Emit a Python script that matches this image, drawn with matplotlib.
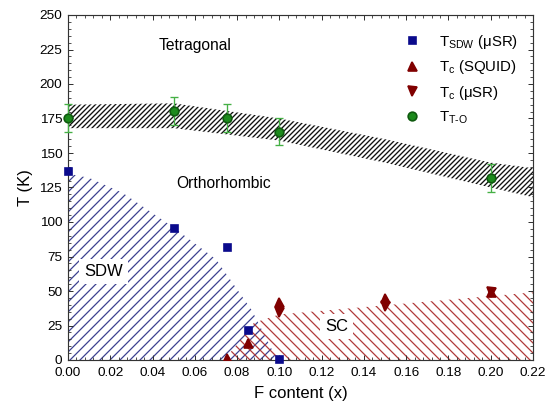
import matplotlib
matplotlib.use("Agg")
import matplotlib.pyplot as plt
from matplotlib.patches import Polygon
from matplotlib.ticker import MultipleLocator
import numpy as np

# ---- data ----
x_sdw = [0.0, 0.05, 0.075, 0.085, 0.10]
t_sdw = [137, 96, 82, 22, 1]

x_tc_squid = [0.075, 0.085, 0.10, 0.15, 0.20]
t_tc_squid = [1.5, 12.5, 42, 45, 49.5]

x_tc_musr = [0.10, 0.15, 0.20]
t_tc_musr = [35, 39, 49.5]

x_tto = [0.0, 0.05, 0.075, 0.10, 0.20]
t_tto = [175.5, 180.5, 175.5, 165.5, 132]
err_tto = [10, 10, 10, 10, 10]

# T-O transition band
band_x = [0.0, 0.05, 0.10, 0.15, 0.20, 0.22]
band_top = [185, 186, 175, 160, 143, 139]
band_bot = [168, 168, 159, 143, 125, 118]

# SDW region boundary
sdw_x = [0.0, 0.0, 0.01, 0.026, 0.05, 0.07, 0.087, 0.099]
sdw_t = [0, 135, 132, 121, 96, 73, 36, 0]

# SC region boundary
sc_x = [0.074, 0.088, 0.10, 0.22, 0.22]
sc_t = [0, 27, 33, 49, 0]

xticks = [0.00, 0.02, 0.04, 0.06, 0.08, 0.10, 0.12, 0.14, 0.16, 0.18, 0.20, 0.22]
yticks = [0, 25, 50, 75, 100, 125, 150, 175, 200, 225, 250]

DPI = 120
plt.rcParams['font.family'] = ['Liberation Sans', 'DejaVu Sans']
plt.rcParams['mathtext.fontset'] = 'custom'
plt.rcParams['mathtext.rm'] = 'Liberation Sans'
plt.rcParams['mathtext.it'] = 'Liberation Sans:italic'
plt.rcParams['mathtext.bf'] = 'Liberation Sans:bold'

fig = plt.figure(figsize=(551 / DPI, 402 / DPI), dpi=DPI)
ax = fig.add_axes([68 / 551, 1 - 360 / 402, 465 / 551, 345 / 402])

navy = '#0a0a8c'
dred = '#800000'
blue_h = '#3c4190'
red_h = '#b03a3a'

def set_hlw(artist, lw):
    if hasattr(artist, 'set_hatch_linewidth'):
        try:
            artist.set_hatch_linewidth(lw)
        except Exception:
            pass

with plt.rc_context({'hatch.linewidth': 0.75}):
    p1 = Polygon(np.column_stack([sdw_x, sdw_t]), closed=True, fill=False,
                 edgecolor=blue_h, hatch='////', linewidth=0, zorder=1)
    set_hlw(p1, 0.75)
    ax.add_patch(p1)
    p2 = Polygon(np.column_stack([sc_x, sc_t]), closed=True, fill=False,
                 edgecolor=red_h, hatch='\\\\\\\\', linewidth=0, zorder=1)
    set_hlw(p2, 0.75)
    ax.add_patch(p2)

with plt.rc_context({'hatch.linewidth': 0.8}):
    fb = ax.fill_between(band_x, band_bot, band_top, facecolor='none',
                         edgecolor='#111111', hatch='/' * 8, linewidth=0, zorder=1)
    set_hlw(fb, 0.8)

# labels
ax.text(0.0599, 228, 'Tetragonal', ha='center', va='center', fontsize=9.4)
ax.text(0.0738, 128, 'Orthorhombic', ha='center', va='center', fontsize=9.4)
ax.text(0.0168, 64, 'SDW', ha='center', va='center', fontsize=10,
        bbox=dict(facecolor='white', edgecolor='none', pad=3), zorder=3)
ax.text(0.127, 24, 'SC', ha='center', va='center', fontsize=10,
        bbox=dict(facecolor='white', edgecolor='none', pad=3), zorder=3)

# data points
ax.plot(x_sdw, t_sdw, 's', color=navy, markersize=4.2, linestyle='none',
        label=r'T$_{\mathrm{SDW}}$ (μSR)', zorder=5, clip_on=False)
ax.plot(x_tc_squid, t_tc_squid, '^', color=dred, markersize=5.4, linestyle='none',
        label=r'T$_{\mathrm{c}}$ (SQUID)', zorder=5)
ax.plot(x_tc_musr, t_tc_musr, 'v', color=dred, markersize=5.4, linestyle='none',
        label=r'T$_{\mathrm{c}}$ (μSR)', zorder=5)
eb = ax.errorbar(x_tto, t_tto, yerr=err_tto, fmt='none', ecolor='#45b045',
                 elinewidth=0.8, capsize=2.5, capthick=0.8, zorder=6)
for art in eb.lines[1] + eb.lines[2]:
    art.set_clip_on(False)
ax.plot(x_tto, t_tto, 'o', color='#1c8a1c', markeredgecolor='#0f5a0f',
        markersize=5.2, linestyle='none', label=r'T$_{\mathrm{T\text{-}O}}$',
        zorder=7, clip_on=False)

ax.set_xlim(0, 0.22)
ax.set_ylim(0, 250)
ax.set_xticks(xticks)
ax.set_xticklabels([f'{v:.2f}' for v in xticks])
ax.set_yticks(yticks)
ax.xaxis.set_minor_locator(MultipleLocator(0.004))
ax.yaxis.set_minor_locator(MultipleLocator(5))
ax.tick_params(which='both', direction='in', top=True, right=True, labelsize=8.1,
               color='#333333')
ax.tick_params(which='major', length=3.2, width=0.6)
ax.tick_params(axis='x', which='major', pad=4.5)
ax.tick_params(which='minor', length=1.8, width=0.5)
for s in ax.spines.values():
    s.set_linewidth(0.7)
    s.set_color('#333333')

ax.set_xlabel('F content (x)', fontsize=10)
ax.set_ylabel('T (K)', fontsize=10)

handles, labels = ax.get_legend_handles_labels()
leg = ax.legend(handles, labels, loc='upper left', bbox_to_anchor=(0.705, 0.975),
                frameon=False, fontsize=9, handlelength=1.0, handletextpad=1.3,
                labelspacing=0.5, borderaxespad=0.2)

fig.savefig('out.png', dpi=DPI)
